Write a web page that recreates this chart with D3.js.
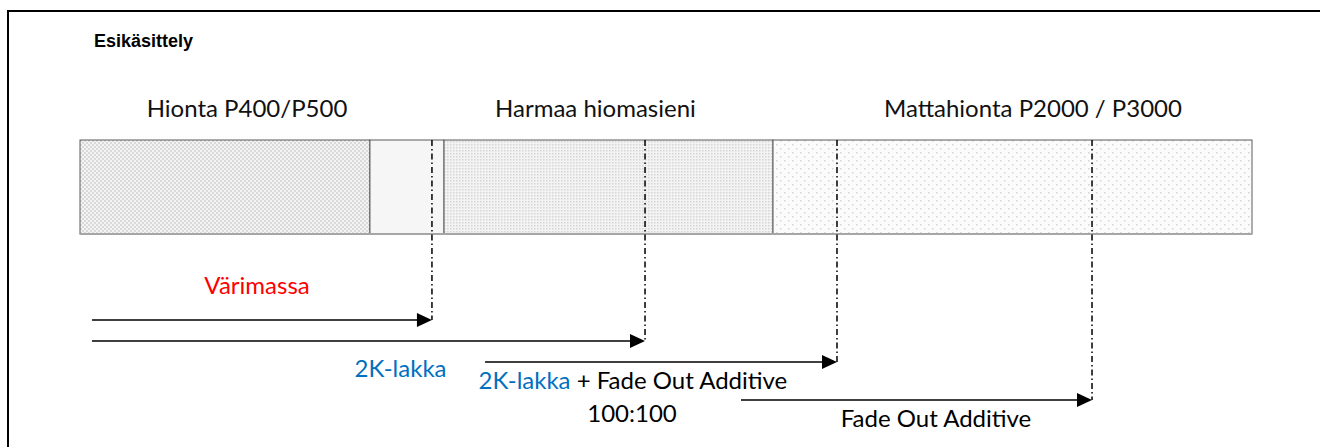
<!DOCTYPE html>
<html>
<head>
<meta charset="utf-8">
<script src="https://cdn.jsdelivr.net/npm/d3@7"></script>
<style>
  body { margin: 0; background: #fff; }
  svg text { font-family: Lato, "Open Sans", sans-serif; }
</style>
</head>
<body>
<div class="chart-container"></div>
<script>
// stages of the pre-treatment, in % of the bar
const stageNames = ["Hionta P400/P500", "", "Harmaa hiomasieni", "Mattahionta P2000 / P3000"];
const stageStart = [0, 24.74, 31.06, 59.13];
const stageEnd = [24.74, 31.06, 59.13, 100];
const stageLabelAt = [14.25, null, 43.98, 81.31];
const stagePattern = ["checker", "plain", "dense", "sparse"];

// layers (arrows) - start, end and lane
const layerStart = [1.02, 1.02, 34.56, 56.4];
const layerEnd = [30.03, 48.21, 64.59, 86.35];
const layerLane = [1, 2, 3, 4.81];

// notes under / over the arrows : text parts with tone, centre and lane
const noteParts = [
  [["Värimassa", "pigment"]],
  [["2K-lakka", "clear"]],
  [["2K-lakka", "clear"], [" + Fade Out Additive", "plain"]],
  [["100:100", "plain"]],
  [["Fade Out Additive", "plain"]],
];
const noteAt = [15.1, 27.35, 47.18, 47.1, 73.04];
const noteLane = [-0.24, 3.71, 4.29, 5.84, 6.1];

const title = "Esikäsittely";

const width = 1320;
const height = 447;
const barTop = 140;
const barBottom = 234;
const tones = { pigment: "#ff0000", clear: "#0070c0", plain: "#000" };

const svg = d3
  .select(".chart-container")
  .append("svg")
  .attr("width", width)
  .attr("height", height);

const x = d3.scaleLinear().domain([0, 100]).range([80, 1252]);
const y = d3.scaleLinear().domain([1, 3]).range([320, 362]);

// patterns
const defs = svg.append("defs");
const checker = defs
  .append("pattern")
  .attr("id", "checker")
  .attr("width", 4)
  .attr("height", 4)
  .attr("patternUnits", "userSpaceOnUse");
checker.append("rect").attr("width", 4).attr("height", 4).attr("fill", "#f4f4f4");
checker.append("rect").attr("width", 2).attr("height", 2).attr("fill", "#d9d9d9");
checker.append("rect").attr("x", 2).attr("y", 2).attr("width", 2).attr("height", 2).attr("fill", "#d9d9d9");

const dense = defs
  .append("pattern")
  .attr("id", "dense")
  .attr("width", 3)
  .attr("height", 3)
  .attr("patternUnits", "userSpaceOnUse");
dense.append("rect").attr("width", 3).attr("height", 3).attr("fill", "#f3f3f3");
dense.append("rect").attr("width", 1.5).attr("height", 1.5).attr("fill", "#d6d6d6");

const sparse = defs
  .append("pattern")
  .attr("id", "sparse")
  .attr("width", 8)
  .attr("height", 8)
  .attr("patternUnits", "userSpaceOnUse");
sparse.append("rect").attr("width", 8).attr("height", 8).attr("fill", "#fbfbfb");
sparse.append("rect").attr("width", 1.5).attr("height", 1.5).attr("fill", "#d6d6d6");
sparse.append("rect").attr("x", 4).attr("y", 4).attr("width", 1.5).attr("height", 1.5).attr("fill", "#d6d6d6");

const fillFor = (p) => (p === "plain" ? "#f6f6f6" : `url(#${p})`);

// frame
svg
  .append("rect")
  .attr("x", 8)
  .attr("y", 11)
  .attr("width", width + 50)
  .attr("height", height + 50)
  .attr("fill", "none")
  .attr("stroke", "#000")
  .attr("stroke-width", 2);

svg
  .append("text")
  .attr("x", 94)
  .attr("y", 47)
  .style("font-family", "Arial, 'Liberation Sans', sans-serif")
  .style("font-weight", "bold")
  .style("font-size", "18px")
  .text(title);

// bar segments
const stages = stageNames.map((name, i) => ({
  name,
  from: stageStart[i],
  to: stageEnd[i],
  labelAt: stageLabelAt[i],
  pattern: stagePattern[i],
}));

svg
  .selectAll("rect.stage")
  .data(stages)
  .enter()
  .append("rect")
  .attr("class", "stage")
  .attr("x", (d) => x(d.from))
  .attr("y", barTop)
  .attr("width", (d) => x(d.to) - x(d.from))
  .attr("height", barBottom - barTop)
  .attr("fill", (d) => fillFor(d.pattern))
  .attr("stroke", "#5a5a5a")
  .attr("stroke-width", 1);

// lighter bottom edge
svg
  .append("line")
  .attr("x1", x(0))
  .attr("x2", x(100))
  .attr("y1", barBottom)
  .attr("y2", barBottom)
  .attr("stroke", "#a6a6a6")
  .attr("stroke-width", 2);

svg
  .selectAll("text.stage")
  .data(stages.filter((d) => d.name))
  .enter()
  .append("text")
  .attr("class", "stage")
  .attr("x", (d) => x(d.labelAt))
  .attr("y", barTop - 23)
  .attr("text-anchor", "middle")
  .style("font-size", "24px")
  .attr("fill", "#111")
  .text((d) => d.name);

// layers
const layers = layerStart.map((s, i) => ({ from: s, to: layerEnd[i], lane: layerLane[i] }));

svg
  .selectAll("line.mark")
  .data(layers)
  .enter()
  .append("line")
  .attr("class", "mark")
  .attr("x1", (d) => x(d.to))
  .attr("x2", (d) => x(d.to))
  .attr("y1", barTop)
  .attr("y2", (d) => y(d.lane))
  .attr("stroke", "#000")
  .attr("stroke-width", 1.5)
  .attr("stroke-dasharray", "6,3,1.5,3");

svg
  .selectAll("line.arrow")
  .data(layers)
  .enter()
  .append("line")
  .attr("class", "arrow")
  .attr("x1", (d) => x(d.from))
  .attr("x2", (d) => x(d.to) - 12)
  .attr("y1", (d) => y(d.lane))
  .attr("y2", (d) => y(d.lane))
  .attr("stroke", "#000")
  .attr("stroke-width", 1.5);

svg
  .selectAll("path.head")
  .data(layers)
  .enter()
  .append("path")
  .attr("class", "head")
  .attr("d", (d) => {
    const tx = x(d.to);
    const ty = y(d.lane);
    return `M${tx},${ty}L${tx - 15},${ty - 7}L${tx - 15},${ty + 7}Z`;
  })
  .attr("fill", "#000");

// notes
const notes = noteParts.map((parts, i) => ({ parts, at: noteAt[i], lane: noteLane[i] }));

const noteText = svg
  .selectAll("text.note")
  .data(notes)
  .enter()
  .append("text")
  .attr("class", "note")
  .attr("x", (d) => x(d.at))
  .attr("y", (d) => y(d.lane))
  .attr("text-anchor", "middle")
  .style("font-size", "24px");

noteText
  .selectAll("tspan")
  .data((d) => d.parts)
  .enter()
  .append("tspan")
  .attr("fill", (p) => tones[p[1]])
  .text((p) => p[0]);
</script>
</body>
</html>
